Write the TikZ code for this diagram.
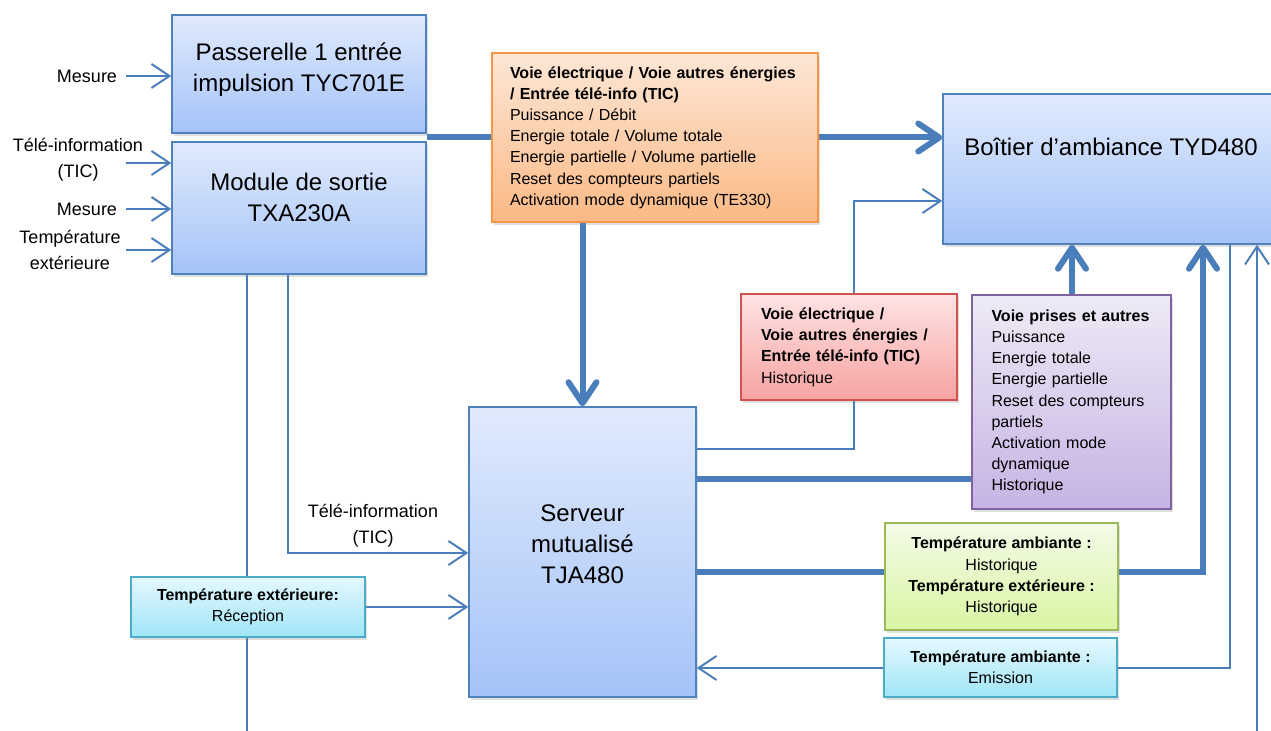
\documentclass[tikz,border=0pt]{standalone}
\usepackage{fontspec}
\setmainfont{Liberation Sans}
\usetikzlibrary{arrows.meta,calc,shadows,backgrounds}
\definecolor{ligne}{HTML}{4A7EBB}
\definecolor{bleuB}{HTML}{4F81BD}
\definecolor{bleuH}{HTML}{E0EAFD}
\definecolor{bleuL}{HTML}{A5C3F8}
\definecolor{oraB}{HTML}{F79646}
\definecolor{oraH}{HTML}{FDE7D6}
\definecolor{oraL}{HTML}{FBB985}
\definecolor{rouB}{HTML}{CF5350}
\definecolor{rouH}{HTML}{FFE3E3}
\definecolor{rouL}{HTML}{F7A2A2}
\definecolor{vioB}{HTML}{8064A2}
\definecolor{vioH}{HTML}{EEEAF6}
\definecolor{vioL}{HTML}{C6B3E4}
\definecolor{verB}{HTML}{9BBB59}
\definecolor{verH}{HTML}{F4FBE8}
\definecolor{verL}{HTML}{D8F5A3}
\definecolor{cyaB}{HTML}{4BACC6}
\definecolor{cyaH}{HTML}{E5F8FE}
\definecolor{cyaL}{HTML}{A0E5F8}

\begin{document}
\begin{tikzpicture}[x=0.5pt,y=-0.5pt,
        ombre/.style={drop shadow={opacity=0.25,shadow xshift=1.2pt,shadow yshift=-1.6pt}},
        bloc/.style={draw=bleuB,line width=0.75pt,top color=bleuH,bottom color=bleuL,ombre},
        titre/.style={font=\fontsize{12}{15.5}\selectfont,align=center},
        info/.style={line width=0.75pt,font=\fontsize{8}{10.6}\selectfont,ombre},
        orangeinfo/.style={info,draw=oraB,top color=oraH,bottom color=oraL},
        rougeinfo/.style={info,draw=rouB,top color=rouH,bottom color=rouL},
        violetinfo/.style={info,draw=vioB,top color=vioH,bottom color=vioL},
        vertinfo/.style={info,draw=verB,top color=verH,bottom color=verL},
        cyaninfo/.style={info,draw=cyaB,top color=cyaH,bottom color=cyaL},
        petit/.style={font=\fontsize{9}{13}\selectfont,align=center},
        trait/.style={draw=ligne,line width=1pt},
        fleche/.style={trait,-{Straight Barb[length=9pt,width=12pt]}},
        gros/.style={draw=ligne,line width=3pt,-{Straight Barb[length=10.5pt,width=14pt,round]}}]
        \useasboundingbox (0,0) rectangle (1271,731);

        \node[bloc,minimum width=127pt,minimum height=59pt,label={[titre,yshift=2pt]center:Passerelle 1 entrée\\impulsion TYC701E}] (passerelle) at (299,74) {};
        \node[bloc,minimum width=127pt,minimum height=66pt,label={[titre,yshift=5.5pt]center:Module de sortie\\TXA230A}] (module) at (299,208) {};
        \node[bloc,minimum width=168pt,minimum height=75pt,label={[titre,yshift=11pt]center:Boîtier d’ambiance TYD480}] (boitier) at (1111,169) {};
        \node[bloc,minimum width=113.5pt,minimum height=145pt,label={[titre,yshift=4pt]center:Serveur\\mutualisé\\TJA480}] (serveur) at (582.5,552) {};

        \node[orangeinfo,text width=145pt,inner xsep=9pt,minimum height=84.5pt,align=left] (voies) at (655,137.5)
            {\textbf{Voie électrique / Voie autres énergies}\\\textbf{/ Entrée télé-info (TIC)}\\Puissance / Débit\\Energie totale / Volume totale\\Energie partielle / Volume partielle\\Reset des compteurs partiels\\Activation mode dynamique (TE330)};
        \node[rougeinfo,text width=88pt,inner xsep=10pt,minimum height=53pt,align=left] (histo) at (849,347)
            {\textbf{Voie électrique /}\\\textbf{Voie autres énergies /}\\\textbf{Entrée télé-info (TIC)}\\Historique};
        \node[violetinfo,text width=80pt,inner xsep=9.75pt,minimum height=107pt,align=left] (prises) at (1071.5,402)
            {\textbf{Voie prises et autres}\\Puissance\\Energie totale\\Energie partielle\\Reset des compteurs\\partiels\\Activation mode\\dynamique\\Historique};
        \node[vertinfo,minimum width=116.5pt,minimum height=53.5pt,align=center] (temphisto) at (1001.5,576.5)
            {\textbf{Température ambiante :}\\Historique\\\textbf{Température extérieure :}\\Historique};
        \node[cyaninfo,minimum width=116.5pt,minimum height=29.5pt,align=center] (emis) at (1000.5,667.5)
            {\textbf{Température ambiante :}\\Emission};
        \node[cyaninfo,minimum width=117pt,minimum height=30pt,align=center] (recep) at (248,607)
            {\textbf{Température extérieure:}\\Réception};

        \node[petit] (mes1) at (87,76) {Mesure};
        \node[petit] (tic1) at (78,160) {Télé-information\\(TIC)};
        \node[petit] (mes2) at (87,209) {Mesure};
        \node[petit] (temp) at (70,249.5) {Température\\extérieure};
        \node[petit] (tic2) at (373,525.5) {Télé-information\\(TIC)};

        \coordinate (e1) at (126,76);
        \coordinate (e2) at (126,163);
        \coordinate (e3) at (126,209);
        \coordinate (e4) at (126,250);
        \coordinate (dep) at ($(passerelle.south east)!0.5!(module.north east)$);
        \coordinate (k1) at (854,449);
        \coordinate (k2) at (854,201);
        \coordinate (v1) at (1072,479);
        \coordinate (g1) at (1203,572);
        \coordinate (t1) at (1230,668);
        \coordinate (b1) at (1257,731);
        \coordinate (m1) at (247,731);
        \coordinate (m2) at (288,553);

        \begin{scope}[on background layer]
            \draw[fleche] (e1) -- (e1 -| passerelle.west);
            \foreach \c in {e2,e3,e4}{
                \draw[fleche] (\c) -- (\c -| module.west);
            }
            \draw[gros] (dep) -- (dep -| boitier.west);
            \draw[gros] (dep -| serveur.north) -- (serveur.north);
            \draw[fleche] (k1 -| serveur.east) -- (k1) -- (k2) -- (k2 -| boitier.west);
            \draw[gros] (v1 -| serveur.east) -- (v1) -- (v1 |- boitier.south);
            \draw[gros] (g1 -| serveur.east) -- (g1) -- (g1 |- boitier.south);
            \draw[fleche] (t1 |- boitier.south) -- (t1) -- (t1 -| serveur.east);
            \draw[fleche] (b1) -- (b1 |- boitier.south);
            \draw[trait] (m1 |- module.south) -- (m1);
            \draw[fleche] (m2 |- module.south) -- (m2) -- (m2 -| serveur.west);
            \draw[fleche] (recep.east) -- (recep.east -| serveur.west);
        \end{scope}
    \end{tikzpicture}
\end{document}
